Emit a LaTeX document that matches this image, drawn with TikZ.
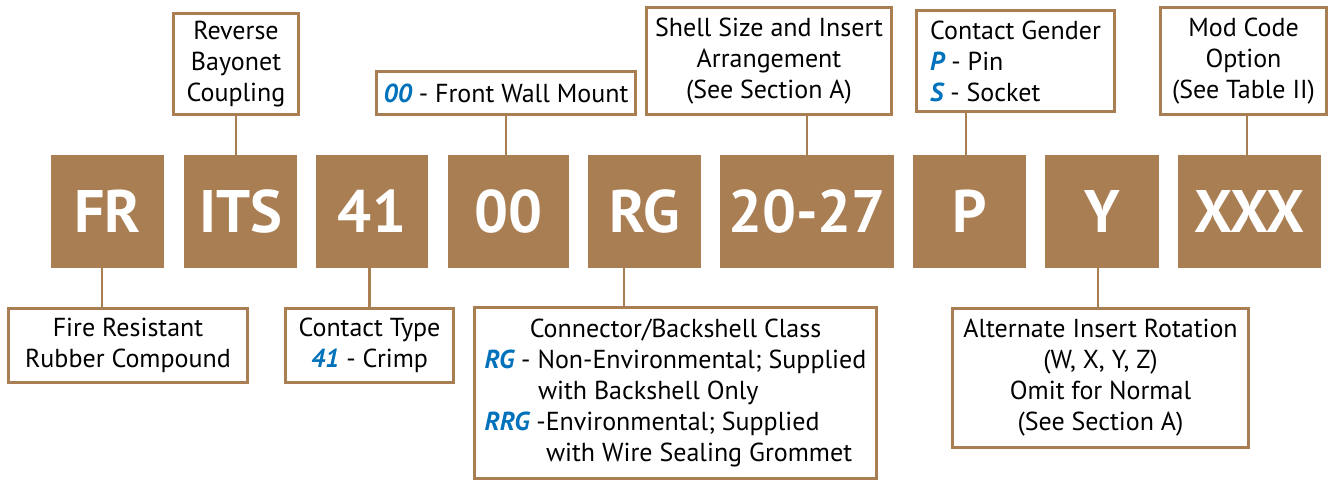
\documentclass[tikz,border=0pt]{standalone}
\usepackage{fontspec}
\setmainfont{PT Sans}
\definecolor{brn}{RGB}{170,126,83}
\definecolor{blu}{RGB}{0,114,188}
\newdimen\px \px=0.75pt
\newcommand\cd[1]{\textcolor{blu}{\bfseries\itshape #1}}
\tikzset{
  code/.style={fill=brn, text=white, font=\fontsize{45}{45}\selectfont\bfseries,
    inner sep=0pt, outer sep=0pt, minimum height=113*\px},
  info/.style={draw=brn, line width=2.2pt, fill=white, inner sep=0pt, outer sep=0pt,
    font=\fontsize{19.5}{23.3}\selectfont, align=center},
  link/.style={draw=brn, line width=1.9pt},
}
\begin{document}
\begin{tikzpicture}[x=0.75pt, y=-0.75pt]
\useasboundingbox (0,0) rectangle (1330,481);
% code boxes
\node[code, minimum width=113*\px] (fr)    at (107.5,211.5) {FR};
\node[code, minimum width=113*\px] (its)   at (240.5,211.5) {ITS};
\node[code, minimum width=112*\px] (c41)   at (372,211.5)   {41};
\node[code, minimum width=121*\px] (c00)   at (508.5,211.5) {00};
\node[code, minimum width=113*\px] (rg)    at (644.5,211.5) {RG};
\node[code, minimum width=174*\px] (c2027) at (807,211.5)   {20-27};
\node[code, minimum width=113*\px] (p)     at (969.5,211.5) {P};
\node[code, minimum width=114*\px] (y)     at (1102,211.5)  {Y};
\node[code, minimum width=143*\px] (xxx)   at (1249.5,211.5){XXX};
% top info boxes
\node[info, minimum width=125*\px, minimum height=101*\px] (rb) at (236,64)
  {Reverse\\Bayonet\\Coupling};
\node[info, minimum width=259*\px, minimum height=43*\px] (fw) at (506,93)
  {\cd{00} - Front Wall Mount};
\node[info, minimum width=245*\px, minimum height=107*\px] (ss) at (769,61)
  {Shell Size and Insert\\Arrangement\\(See Section A)};
\node[info, align=left, minimum width=198*\px, minimum height=101*\px] (cg) at (1015.5,61)
  {Contact Gender\\\cd{P} - Pin\\\cd{S} - Socket};
\node[info, minimum width=166*\px, minimum height=107*\px] (mc) at (1243.5,61)
  {Mod Code\\Option\\(See Table II)};
% bottom info boxes
\node[info, minimum width=239*\px, minimum height=74*\px] (frb) at (128,345.5)
  {Fire Resistant\\Rubber Compound};
\node[info, minimum width=168*\px, minimum height=74*\px] (ct) at (369.5,345.5)
  {Contact Type\\\cd{41} - Crimp};
\node[info, minimum width=402*\px, minimum height=171*\px] (cb) at (675.5,393)
  {\begin{tabular}{@{}l@{}}
   \multicolumn{1}{@{}c@{}}{Connector/Backshell Class}\\
   \cd{RG} - Non-Environmental; Supplied\\
   \hspace*{40pt}with Backshell Only\\
   \cd{RRG} -Environmental; Supplied\\
   \hspace*{46pt}with Wire Sealing Grommet
   \end{tabular}};
\node[info, minimum width=296*\px, minimum height=139*\px] (ai) at (1100.5,378)
  {Alternate Insert Rotation\\(W, X, Y, Z)\\Omit for Normal\\(See Section A)};
% connectors
\draw[link] (rb.south) -- (rb.south |- its.north);
\draw[link] (fw.south) -- (fw.south |- c00.north);
\draw[link] (c2027.north) -- (c2027.north |- ss.south);
\draw[link] ([xshift=-2.6pt]p.north) -- ([xshift=-2.6pt]p.north |- cg.south);
\draw[link] ([xshift=-1.9pt]xxx.north) -- ([xshift=-1.9pt]xxx.north |- mc.south);
\draw[link] ([xshift=-4.1pt]fr.south) -- ([xshift=-4.1pt]fr.south |- frb.north);
\draw[link] (ct.north) -- (ct.north |- c41.south);
\draw[link] ([xshift=-15.4pt]rg.south) -- ([xshift=-15.4pt]rg.south |- cb.north);
\draw[link] ([xshift=-3pt]y.south) -- ([xshift=-3pt]y.south |- ai.north);
\end{tikzpicture}
\end{document}
